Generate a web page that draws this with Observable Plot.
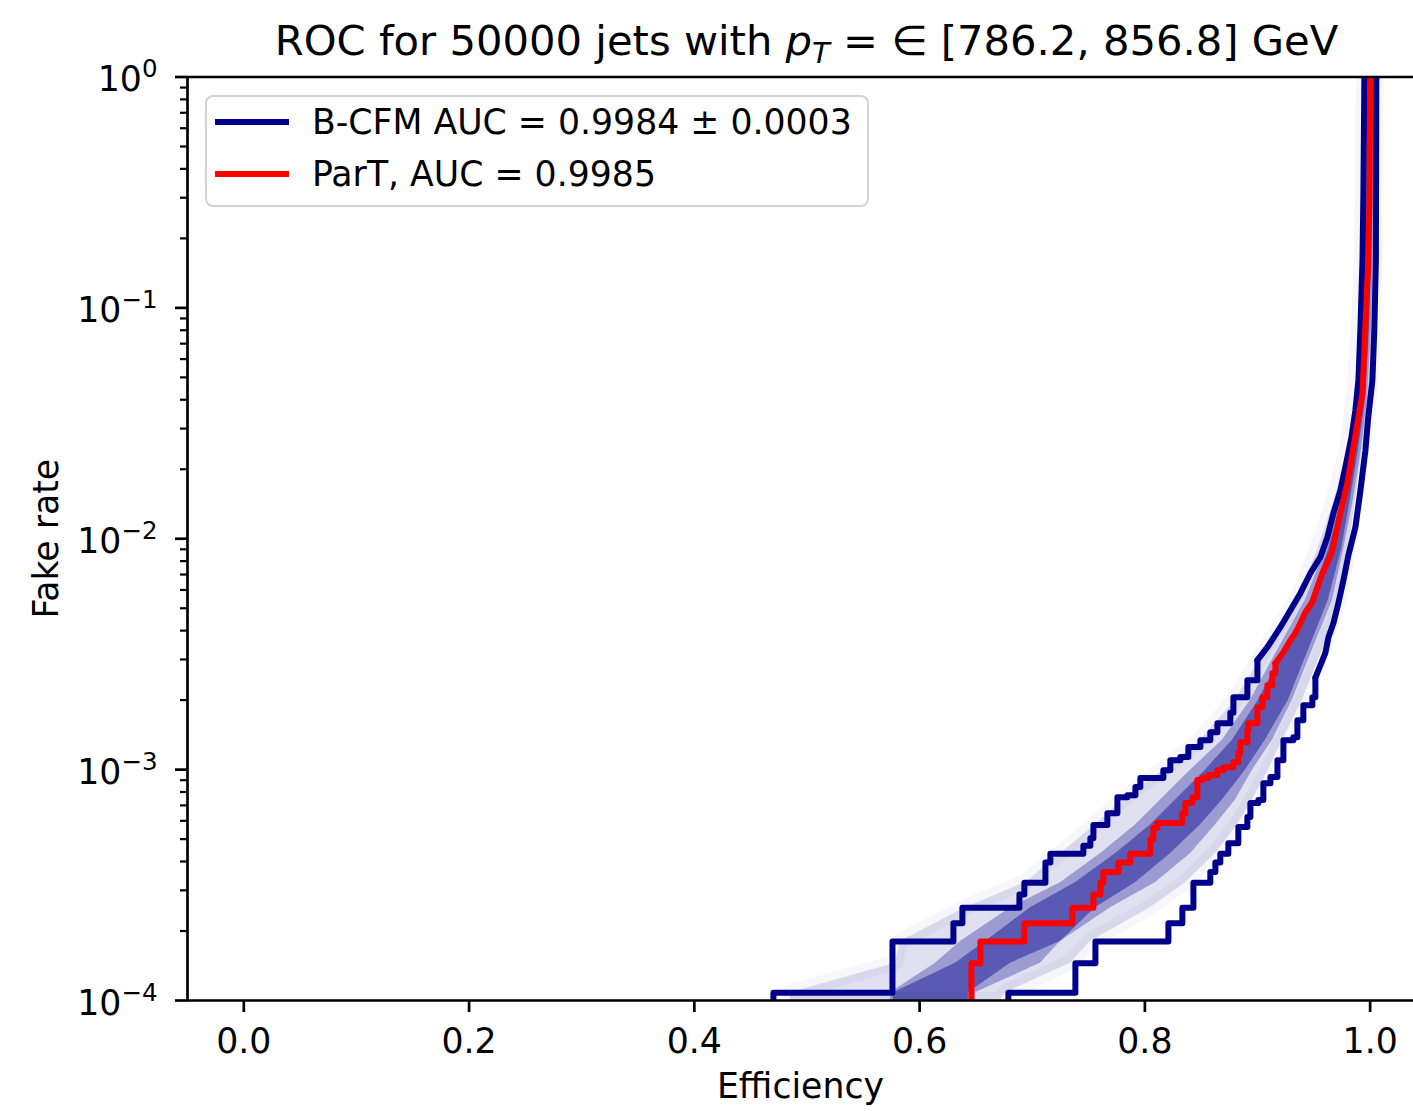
<!DOCTYPE html>
<html>
<head>
<meta charset="utf-8">
<script src="https://cdn.jsdelivr.net/npm/d3@7"></script>
<script src="https://cdn.jsdelivr.net/npm/@observablehq/plot@0.6"></script>
<style>
  body { margin: 0; background: #fff; font-family: "DejaVu Sans", sans-serif; color: #000; }
  #wrap { position: relative; width: 1413px; height: 1111px; overflow: hidden; background: #fff; }
  #title { height: 60px; box-sizing: border-box; padding-top: 21px; margin-left: 187px; width: 1239px;
           text-align: center; font-size: 41.7px; line-height: 40px; white-space: nowrap; }
  #title .sub { font-size: 29px; font-style: italic; position: relative; top: 8px; }
  #legend { position: absolute; left: 205px; top: 95px; width: 664px; height: 112px; box-sizing: border-box;
            border: 2.5px solid #d3d3d3; border-radius: 8px; background: rgba(255,255,255,0.85); }
  .sw { position: absolute; height: 6px; width: 74px; }
  .lt { position: absolute; font-size: 34.7px; line-height: 40px; white-space: nowrap; }
</style>
</head>
<body>
<div id="wrap">
  <div id="title">ROC for 50000 jets with <i>p</i><span class="sub">T</span> = ∈ [786.2, 856.8] GeV</div>
  <div id="chart"></div>
  <div id="legend"></div>
</div>
<script>
// ---------------- data (efficiency, fake rate) ----------------
const upperEnvelope = [
  [0.4702,1.0e-4],[0.4702,1.08e-4],[0.5759,1.08e-4],[0.5759,1.80e-4],[0.6300,1.80e-4],[0.6300,2.16e-4],
  [0.6380,2.16e-4],[0.6380,2.52e-4],[0.6886,2.52e-4],[0.6886,2.88e-4],[0.6930,2.88e-4],[0.6930,3.24e-4],
  [0.7117,3.24e-4],[0.7117,3.96e-4],[0.7161,3.96e-4],[0.7161,4.32e-4],[0.7454,4.32e-4],[0.7454,4.68e-4],
  [0.7516,4.68e-4],[0.7516,5.04e-4],[0.7543,5.04e-4],[0.7543,5.76e-4],[0.7667,6.48e-4],[0.7756,7.60e-4],
  [0.7845,7.75e-4],[0.7916,8.40e-4],[0.7960,9.19e-4],[0.8120,9.19e-4],[0.8164,9.95e-4],[0.8226,1.099e-3],
  [0.8315,1.133e-3],[0.8386,1.252e-3],[0.8493,1.342e-3],[0.8581,1.453e-3],[0.8644,1.589e-3],[0.8759,1.765e-3],
  [0.8786,2.060e-3],[0.8910,2.440e-3],[0.8999,2.979e-3],[0.9088,3.391e-3],[0.9203,4.138e-3],[0.9292,4.903e-3],
  [0.9381,5.81e-3],[0.9469,7.088e-3],[0.9558,8.32e-3],[0.9620,1.015e-2],[0.9674,1.29e-2],[0.9736,1.622e-2],
  [0.9789,2.144e-2],[0.9834,2.75e-2],[0.9869,3.598e-2],[0.9896,4.854e-2],[0.9914,8.23e-2],[0.9932,0.1606],
  [0.9940,0.3131],[0.9949,1.0]
];
const lowerEnvelope = [
  [0.6788,1.0e-4],[0.6788,1.08e-4],[0.7383,1.08e-4],[0.7383,1.45e-4],[0.7561,1.45e-4],[0.7561,1.80e-4],
  [0.8209,1.80e-4],[0.8209,2.16e-4],[0.8333,2.16e-4],[0.8333,2.52e-4],[0.8431,2.52e-4],[0.8431,3.24e-4],
  [0.8581,3.24e-4],[0.8581,3.60e-4],[0.8626,3.60e-4],[0.8626,3.96e-4],[0.8670,4.32e-4],[0.8741,4.80e-4],
  [0.8830,5.64e-4],[0.8910,6.23e-4],[0.8937,7.16e-4],[0.9008,7.38e-4],[0.9052,8.74e-4],[0.9115,9.28e-4],
  [0.9177,1.099e-3],[0.9230,1.342e-3],[0.9318,1.382e-3],[0.9354,1.638e-3],[0.9407,1.902e-3],[0.9487,2.060e-3],
  [0.9514,2.502e-3],[0.9602,3.194e-3],[0.9630,3.746e-3],[0.9674,4.307e-3],[0.9718,5.258e-3],[0.9763,6.61e-3],
  [0.9807,8.48e-3],[0.9869,1.121e-2],[0.9914,1.622e-2],[0.9958,2.416e-2],[0.9984,3.391e-2],[1.0020,4.854e-2],
  [1.0037,7.99e-2],[1.0051,0.1606],[1.0055,1.0]
];
const partCurve = [
  [0.6460,1.0e-4],[0.6460,1.45e-4],[0.6540,1.45e-4],[0.6540,1.80e-4],[0.6930,1.80e-4],[0.6930,2.16e-4],
  [0.7357,2.16e-4],[0.7357,2.52e-4],[0.7543,2.52e-4],[0.7543,2.88e-4],[0.7605,2.88e-4],[0.7605,3.24e-4],
  [0.7632,3.24e-4],[0.7632,3.60e-4],[0.7765,3.60e-4],[0.7765,3.96e-4],[0.7871,3.96e-4],[0.7871,4.32e-4],
  [0.8049,4.32e-4],[0.8049,5.0e-4],[0.8075,5.58e-4],[0.8111,5.87e-4],[0.8298,5.87e-4],[0.8333,6.48e-4],
  [0.8360,7.16e-4],[0.8422,7.60e-4],[0.8466,9.01e-4],[0.8511,9.19e-4],[0.8564,9.47e-4],[0.8644,9.95e-4],
  [0.8697,1.025e-3],[0.8786,1.078e-3],[0.8830,1.179e-3],[0.8848,1.315e-3],[0.8910,1.482e-3],[0.8919,1.589e-3],
  [0.8999,1.865e-3],[0.9043,2.060e-3],[0.9088,2.322e-3],[0.9132,2.616e-3],[0.9159,2.891e-3],[0.9230,3.227e-3],
  [0.9292,3.636e-3],[0.9336,3.899e-3],[0.9381,4.307e-3],[0.9425,4.806e-3],[0.9488,5.311e-3],[0.9532,6.166e-3],
  [0.9576,7.088e-3],[0.9630,8.07e-3],[0.9665,8.92e-3],[0.9736,1.29e-2],[0.9798,1.739e-2],[0.9843,2.345e-2],
  [0.9887,3.162e-2],[0.9932,4.265e-2],[0.9958,8.23e-2],[0.9984,0.1606],[0.9995,0.3131],[1.0,1.0]
];
// spread of the bootstrap curves (faint band): outer, inner and densest core ranges per fake-rate level
const bandFake    = [1.0e-4, 1.08e-4, 1.45e-4, 1.80e-4, 2.52e-4, 3.24e-4, 4.32e-4, 5.75e-4, 7.38e-4, 9.95e-4, 1.342e-3, 2.0e-3, 3.29e-3, 5.42e-3, 8.92e-3, 1.468e-2, 2.416e-2, 3.977e-2, 7.99e-2, 0.1606, 1.0];
const bandOuterLo = [0.4853, 0.4853, 0.5785, 0.5829, 0.6407, 0.6939, 0.7250, 0.7561, 0.7800, 0.8164, 0.8493, 0.8804, 0.9070, 0.9354, 0.9532, 0.9682, 0.9798, 0.9860, 0.9904, 0.9931, 0.9949];
const bandOuterHi = [0.6717, 0.6762, 0.7339, 0.7516, 0.8049, 0.8360, 0.8626, 0.8821, 0.8955, 0.9096, 0.9221, 0.9398, 0.9576, 0.9727, 0.9807, 0.9869, 0.9931, 0.9993, 1.0028, 1.0046, 1.0055];
const bandInnerLo = [0.5741, 0.5741, 0.6140, 0.6362, 0.6806, 0.7250, 0.7605, 0.7916, 0.8138, 0.8404, 0.8688, 0.8937, 0.9177, 0.9425, 0.9602, 0.9718, 0.9824, 0.9886, 0.9922, 0.9949, 0.9967];
const bandInnerHi = [0.6495, 0.6495, 0.7072, 0.7250, 0.7694, 0.8093, 0.8404, 0.8626, 0.8804, 0.8955, 0.9132, 0.9309, 0.9487, 0.9665, 0.9763, 0.9851, 0.9922, 0.9976, 1.0011, 1.0028, 1.0037];
const bandCoreLo  = [0.5767, 0.5767, 0.6318, 0.6584, 0.6984, 0.7383, 0.7738, 0.8049, 0.8271, 0.8537, 0.8777, 0.9008, 0.9239, 0.9469, 0.9629, 0.9744, 0.9842, 0.9904, 0.9940, 0.9958, 0.9976];
const bandCoreHi  = [0.6433, 0.6433, 0.6806, 0.7250, 0.7561, 0.7916, 0.8226, 0.8493, 0.8688, 0.8892, 0.9070, 0.9274, 0.9452, 0.9629, 0.9744, 0.9824, 0.9896, 0.9958, 0.9993, 1.0011, 1.0028];

const xTicks = [0, 0.2, 0.4, 0.6, 0.8, 1.0];
const yMajorTicks = [1e-4, 1e-3, 1e-2, 1e-1, 1];
const yMinorTicks = [1e-4, 1e-3, 1e-2, 1e-1].flatMap(d => [2,3,4,5,6,7,8,9].map(m => m * d));
const legendLabels = ["B-CFM AUC = 0.9984 ± 0.0003", "ParT, AUC = 0.9985"];
const legendColors = ["darkblue", "red"];

// ---------------- build ----------------
const band = bandFake.map((f, i) => ({
  fake: f, oLo: bandOuterLo[i], oHi: bandOuterHi[i], iLo: bandInnerLo[i], iHi: bandInnerHi[i],
  cLo: bandCoreLo[i], cHi: bandCoreHi[i]
}));
const stepLimit = 3.0e-3;
function split(pts) {
  const stepped = pts.filter(d => d[1] <= stepLimit);
  const smooth = [stepped[stepped.length - 1], ...pts.filter(d => d[1] > stepLimit)];
  return [stepped, smooth];
}
function curveMarks(pts, color) {
  const [a, b] = split(pts);
  const common = {x: d => d[0], y: d => d[1], stroke: color, strokeWidth: 6, strokeLinejoin: "round", clip: true};
  return [Plot.line(a, {...common, curve: "step-after"}), Plot.line(b, {...common, curve: "linear"})];
}

const FS = 34.7;
const chart = Plot.plot({
  width: 1413,
  height: 1051,
  marginTop: 16.5,
  marginBottom: 111,
  marginLeft: 187,
  marginRight: 0,
  style: {fontFamily: '"DejaVu Sans", sans-serif', fontSize: FS + "px", background: "white", overflow: "visible", color: "black"},
  x: {domain: [-0.05, 1.0385]},
  y: {type: "log", domain: [1e-4, 1]},
  marks: [
    Plot.areaX(band, {y: "fake", x1: "oLo", x2: "oHi", fill: "darkblue", fillOpacity: 0.12,
      stroke: "darkblue", strokeOpacity: 0.035, strokeWidth: 16, strokeLinejoin: "round", clip: true}),
    Plot.areaX(band, {y: "fake", x1: "iLo", x2: "iHi", fill: "darkblue", fillOpacity: 0.3, clip: true}),
    Plot.areaX(band, {y: "fake", x1: "cLo", x2: "cHi", fill: "darkblue", fillOpacity: 0.42, clip: true}),
    ...curveMarks(upperEnvelope, "darkblue"),
    ...curveMarks(lowerEnvelope, "darkblue"),
    ...curveMarks(partCurve, "red"),
    Plot.axisY({ticks: yMinorTicks, tickSize: 7, tickFormat: () => "", strokeWidth: 2.2, label: null}),
    Plot.axisY({ticks: yMajorTicks, tickSize: 12, tickPadding: 18, strokeWidth: 2.7, fontSize: FS,
      tickFormat: d => "10^" + Math.round(Math.log10(d)),
      label: "Fake rate", labelAnchor: "center", labelOffset: 154, labelArrow: "none"}),
    Plot.axisX({ticks: xTicks, tickSize: 12, tickPadding: 16, strokeWidth: 2.7, fontSize: FS,
      tickFormat: d3.format(".1f"),
      label: "Efficiency", labelAnchor: "center", labelOffset: 97, labelArrow: "none"}),
    Plot.ruleX([-0.05], {strokeWidth: 2.7}),
    Plot.ruleY([1e-4, 1], {strokeWidth: 2.7})
  ]
});

// matplotlib-like superscript exponents for the y tick labels
chart.querySelectorAll('g[aria-label="y-axis tick label"] text').forEach(t => {
  const s = t.textContent;
  const m = s.match(/^10\^(-?\d+)$/);
  if (!m) return;
  t.textContent = "";
  t.setAttribute("dy", "3");
  t.appendChild(document.createTextNode("10"));
  const ts = document.createElementNS("http://www.w3.org/2000/svg", "tspan");
  ts.setAttribute("font-size", "24.5px");
  ts.setAttribute("dy", "-14");
  ts.textContent = m[1].replace("-", "\u2212");
  t.appendChild(ts);
});
document.getElementById("chart").appendChild(chart);

// legend
const lg = document.getElementById("legend");
legendLabels.forEach((lab, i) => {
  const cy = 122 + i * 52 - 95;
  const sw = document.createElement("div");
  sw.className = "sw";
  sw.style.left = (215 - 205 - 2.5) + "px";
  sw.style.top = (cy - 3 - 2.5) + "px";
  sw.style.background = legendColors[i];
  lg.appendChild(sw);
  const tx = document.createElement("div");
  tx.className = "lt";
  tx.style.left = (312.5 - 205 - 2.5) + "px";
  tx.style.top = (cy - 20 - 2.5) + "px";
  tx.textContent = lab;
  lg.appendChild(tx);
});
</script>
</body>
</html>
